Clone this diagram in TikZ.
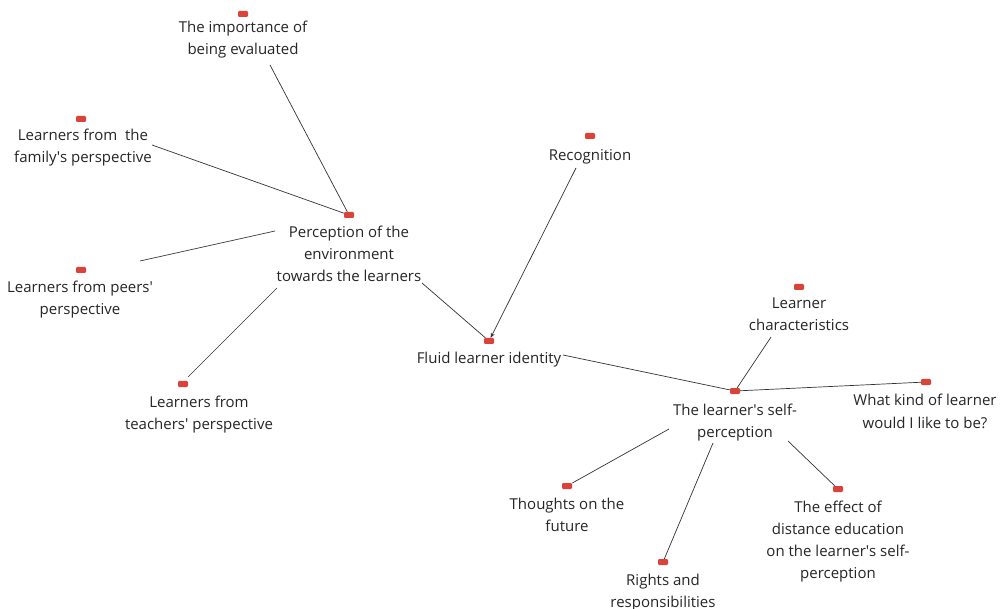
\documentclass[tikz,border=0pt]{standalone}
\usepackage{fontspec}
\setmainfont{Open Sans}
\usetikzlibrary{arrows.meta}
\definecolor{tagred}{HTML}{D9433A}
\definecolor{linkgray}{HTML}{333333}
\newcommand\ap{\textquotesingle}
\tikzset{
  tag/.style={fill=tagred, rounded corners=1.2pt, minimum width=10pt, minimum height=6pt, inner sep=0pt},
  topic/.style={anchor=base, align=center, inner sep=0pt, font=\fontsize{15}{22}\selectfont, text=black!85},
  link/.style={draw=linkgray, line width=0.7pt},
}
\begin{document}
\begin{tikzpicture}[x=1pt, y=-1pt]
\fill[white] (0,0) rectangle (1001,609);
\useasboundingbox (0,0) rectangle (1001,609);

% tags
\node[tag] (imp-i)     at (243,14)  {};
\node[tag] (fam-i)     at (81,119)  {};
\node[tag] (perc-i)    at (349,215) {};
\node[tag] (peer-i)    at (81,270)  {};
\node[tag] (teach-i)   at (183,384) {};
\node[tag] (rec-i)     at (590,136) {};
\node[tag] (fluid-i)   at (489,341) {};
\node[tag] (char-i)    at (799,287) {};
\node[tag] (self-i)    at (735,391) {};
\node[tag] (what-i)    at (926,382) {};
\node[tag] (thought-i) at (567,486) {};
\node[tag] (rights-i)  at (663,562) {};
\node[tag] (effect-i)  at (838,489) {};

% topics (base anchor = baseline of the last line)
\node[topic] (imp)     at (243,55)  {The importance of\\being evaluated};
\node[topic] (fam)     at (83,163)  {Learners from\ \ the\\family\ap s perspective};
\node[topic] (perc)    at (349,282) {Perception of the\\environment\\towards the learners};
\node[topic] (peer)    at (80,315)  {Learners from peers\ap\\perspective};
\node[topic] (teach)   at (199,429) {Learners from\\teachers\ap\ perspective};
\node[topic] (rec)     at (590,161) {Recognition};
\node[topic] (fluid)   at (489,363) {Fluid learner identity};
\node[topic] (char)    at (799,331) {Learner\\characteristics};
\node[topic] (self)    at (735,437) {The learner\ap s self-\\perception};
\node[topic] (what)    at (925,428) {What kind of learner\\would I like to be?};
\node[topic] (thought) at (567,531) {Thoughts on the\\future};
\node[topic] (rights)  at (663,607) {Rights and\\responsibilities};
\node[topic] (effect)  at (838,578) {The effect of\\distance education\\on the learner\ap s self-\\perception};

% links
\draw[link] ([shift={(27,10)}]imp.base) -- (perc-i);
\draw[link] ([shift={(69,-18)}]fam.base) -- (perc-i);
\draw[link] ([shift={(-74,-51)}]perc.base) -- ([shift={(60,-54)}]peer.base);
\draw[link] ([shift={(-72,6)}]perc.base) -- ([shift={(5,-7)}]teach-i.center);
\draw[link] ([shift={(73,1)}]perc.base) -- (fluid-i);
\draw[link, -{Stealth[length=5pt, width=4pt]}] ([shift={(-14,7)}]rec.base) -- (fluid-i);
\draw[link] ([shift={(74,-8)}]fluid.base) -- (self-i);
\draw[link] ([shift={(-28,6)}]char.base) -- (self-i);
\draw[link] (self-i) -- (what-i);
\draw[link] ([shift={(-66,-8)}]self.base) -- (thought-i);
\draw[link] ([shift={(-22,6)}]self.base) -- (rights-i);
\draw[link] ([shift={(53,4)}]self.base) -- (effect-i);
\end{tikzpicture}
\end{document}
